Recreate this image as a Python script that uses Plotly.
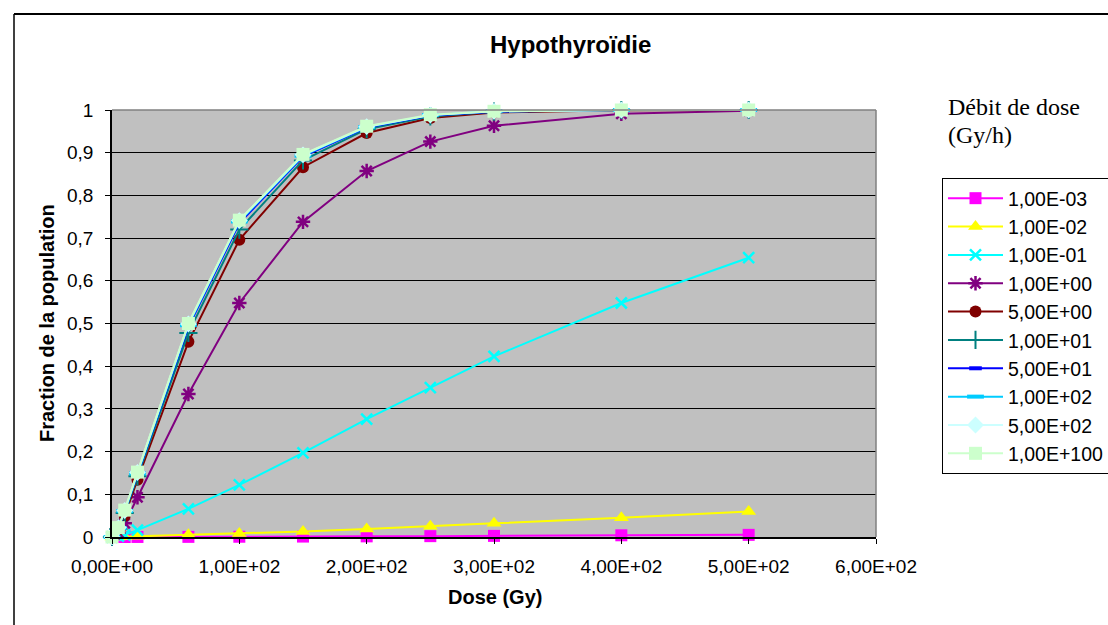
import plotly.graph_objects as go

# Doses (Gy) at which the fraction of the population is computed
dose = [0, 5, 10, 20, 60, 100, 150, 200, 250, 300, 400, 500]

# Fraction of population affected, one list per dose rate (Gy/h)
frac_1e_03 = [0, 0, 0, 0.0001, 0.0003, 0.0006, 0.001, 0.0015, 0.002, 0.0026, 0.004, 0.005]
frac_1e_02 = [0, 0.0002, 0.0005, 0.0015, 0.005, 0.008, 0.013, 0.019, 0.025, 0.032, 0.045, 0.060]
frac_1e_01 = [0, 0.002, 0.005, 0.016, 0.066, 0.122, 0.197, 0.276, 0.350, 0.423, 0.548, 0.654]
frac_1e_00 = [0, 0.010, 0.032, 0.093, 0.335, 0.548, 0.738, 0.857, 0.926, 0.963, 0.991, 0.998]
frac_5e_00 = [0, 0.017, 0.050, 0.134, 0.457, 0.696, 0.866, 0.946, 0.981, 0.994, 0.9995, 1.0]
frac_1e_01p = [0, 0.019, 0.056, 0.142, 0.478, 0.720, 0.882, 0.955, 0.985, 0.996, 1.0, 1.0]
frac_5e_01 = [0, 0.021, 0.060, 0.147, 0.492, 0.735, 0.891, 0.959, 0.987, 0.996, 1.0, 1.0]
frac_1e_02p = [0, 0.021, 0.061, 0.149, 0.496, 0.739, 0.893, 0.960, 0.988, 0.997, 1.0, 1.0]
frac_5e_02 = [0, 0.022, 0.062, 0.151, 0.499, 0.741, 0.895, 0.961, 0.988, 0.997, 1.0, 1.0]
frac_1e_100 = [0, 0.022, 0.063, 0.152, 0.500, 0.742, 0.896, 0.962, 0.989, 0.997, 1.0, 1.0]

series_names = ["1,00E-03", "1,00E-02", "1,00E-01", "1,00E+00", "5,00E+00",
                "1,00E+01", "5,00E+01", "1,00E+02", "5,00E+02", "1,00E+100"]
series_values = [frac_1e_03, frac_1e_02, frac_1e_01, frac_1e_00, frac_5e_00,
                 frac_1e_01p, frac_5e_01, frac_1e_02p, frac_5e_02, frac_1e_100]

x_tick_vals = [0, 100, 200, 300, 400, 500, 600]
x_tick_text = ["0,00E+00", "1,00E+02", "2,00E+02", "3,00E+02", "4,00E+02",
               "5,00E+02", "6,00E+02"]

# Line colour, marker symbol, marker size, marker outline width
styles = [
    ("#FF00FF", "square", 12, 0),
    ("#FFFF00", "triangle-up", 13, 0),
    ("#00FFFF", "x-thin", 11, 2.5),
    ("#800080", "asterisk", 12, 2.5),
    ("#800000", "circle", 12, 0),
    ("#008080", "cross-thin", 13, 2),
    ("#0000FF", "line-ew", 9, 4),
    ("#00CCFF", "line-ew", 12, 4),
    ("#CCFFFF", "diamond", 13, 0),
    ("#CCFFCC", "square", 13, 0),
]

W, H = 1108, 625


def px_x(p):
    return p / W


def px_y(p):
    return (H - p) / H


fig = go.Figure()
for name, vals, (color, symbol, size, lw) in zip(series_names, series_values, styles):
    marker = dict(color=color, symbol=symbol, size=size)
    if lw:
        marker["line"] = dict(color=color, width=lw)
    fig.add_trace(go.Scatter(
        x=dose, y=vals, name=name, mode="lines+markers",
        line=dict(color=color, width=2),
        marker=marker, cliponaxis=False,
    ))

axis_font = dict(family="Liberation Sans, Arial, sans-serif", size=19, color="black")
title_font = dict(family="Liberation Sans, Arial, sans-serif", size=20, color="black")

fig.update_layout(
    width=W, height=H,
    margin=dict(l=0, r=0, t=0, b=0, autoexpand=False),
    paper_bgcolor="white",
    plot_bgcolor="#C0C0C0",
    separators=", ",
    showlegend=True,
    legend=dict(
        x=px_x(942), y=px_y(178), xanchor="left", yanchor="top",
        bgcolor="white", bordercolor="black", borderwidth=1,
        font=dict(family="Liberation Sans, Arial, sans-serif", size=19.5, color="black"),
        itemwidth=55, tracegroupgap=0,
    ),
    xaxis=dict(
        domain=[px_x(112), px_x(876)], range=[0, 600],
        tickvals=x_tick_vals, ticktext=x_tick_text,
        showgrid=False, zeroline=False,
        showline=True, linecolor="black", linewidth=1.5,
        ticks="outside", ticklen=5, tickcolor="black", tickwidth=1,
        tickfont=axis_font, ticklabelstandoff=6,
    ),
    yaxis=dict(
        domain=[px_y(537), px_y(110)], range=[0, 1],
        dtick=0.1, tick0=0,
        showgrid=True, gridcolor="black", gridwidth=1,
        zeroline=False,
        showline=True, linecolor="black", linewidth=1.5,
        ticks="outside", ticklen=5, tickcolor="black", tickwidth=1,
        tickfont=axis_font, ticklabelstandoff=8,
    ),
)

# Grey top and right edges of the plot area
fig.add_shape(type="line", xref="x domain", yref="y domain", x0=0, x1=1, y0=1, y1=1,
              line=dict(color="#808080", width=1.5), layer="above")
fig.add_shape(type="line", xref="x domain", yref="y domain", x0=1, x1=1, y0=0, y1=1,
              line=dict(color="#808080", width=1.5), layer="above")

# Outer chart frame (top and left edges)
fig.add_shape(type="line", xref="paper", yref="paper",
              x0=px_x(14), x1=1.0, y0=px_y(14), y1=px_y(14),
              line=dict(color="black", width=2), layer="above")
fig.add_shape(type="line", xref="paper", yref="paper",
              x0=px_x(14), x1=px_x(14), y0=0.0, y1=px_y(14),
              line=dict(color="black", width=1.5), layer="above")

annotations = [
    dict(text="<b>Hypothyroïdie</b>", x=px_x(570), y=px_y(45),
         font=dict(family="Liberation Sans, Arial, sans-serif", size=24, color="black")),
    dict(text="<b>Fraction de la population</b>", x=px_x(47), y=px_y(323),
         textangle=-90, font=title_font),
    dict(text="<b>Dose (Gy)</b>", x=px_x(495), y=px_y(597), font=title_font),
    dict(text="Débit de dose", x=px_x(946), y=px_y(107), xanchor="left",
         font=dict(family="Liberation Serif, Times New Roman, serif", size=24, color="black")),
    dict(text="(Gy/h)", x=px_x(946), y=px_y(135), xanchor="left",
         font=dict(family="Liberation Serif, Times New Roman, serif", size=24, color="black")),
]
for a in annotations:
    a.setdefault("xanchor", "center")
    fig.add_annotation(xref="paper", yref="paper", yanchor="middle",
                       showarrow=False, **a)

fig.write_html("out.html")
